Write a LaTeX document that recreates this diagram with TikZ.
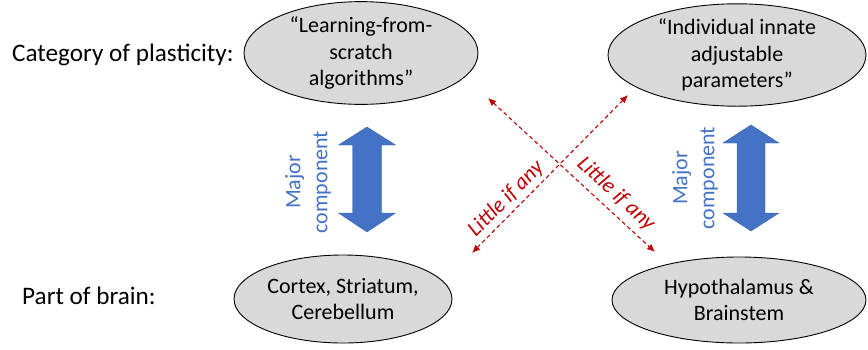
\documentclass[tikz,border=0pt]{standalone}
\usepackage{fontspec}
\setmainfont{Carlito}
\usetikzlibrary{shapes.geometric,arrows.meta}
\definecolor{ovalgray}{HTML}{D9D9D9}
\definecolor{majorblue}{HTML}{4472C4}
\definecolor{littlered}{HTML}{C00000}
\begin{document}
\begin{tikzpicture}[x=1pt,y=-1pt,
  oval/.style={ellipse, draw=black, line width=0.9pt, fill=ovalgray, inner sep=0pt,
    align=center, font=\fontsize{22}{26.5}\selectfont},
  rowlabel/.style={anchor=west, inner sep=0pt, font=\fontsize{25.2}{30}\selectfont},
  bigarrow/.style={fill=majorblue, draw=majorblue!85!black, line width=0.4pt},
  majorlabel/.style={text=majorblue, align=center, rotate=90, inner sep=0pt,
    font=\fontsize{22}{27}\selectfont},
  weaklink/.style={draw=littlered, line width=1.1pt, dash pattern=on 4pt off 3pt,
    {Latex[length=8pt,width=7pt]}-{Latex[length=8pt,width=7pt]}},
  weaklabel/.style={text=littlered, inner sep=0pt, font=\fontsize{22}{26}\selectfont\itshape}
]
\useasboundingbox (0,0) rectangle (868,349);

% row labels
\node[rowlabel] (cat) at (12,55) {Category of plasticity:};
\node[rowlabel] (part) at (22,296) {Part of brain:};

% ovals
\node[oval, minimum width=234pt, minimum height=96pt] (lfs) at (361,53)
  {“Learning-from-\\scratch\\algorithms”};
\node[oval, minimum width=258pt, minimum height=94pt] (iiap) at (737,55)
  {“Individual innate\\adjustable\\parameters”};
\node[oval, minimum width=218pt, minimum height=88pt] (csc) at (343,299)
  {Cortex, Striatum,\\Cerebellum};
\node[oval, minimum width=254pt, minimum height=86pt] (hb) at (739,300)
  {Hypothalamus \&\\Brainstem};

% thick two-headed arrows
\path[bigarrow] (367,127) -- (395.5,145) -- (381.5,145) -- (381.5,213) -- (395.5,213)
  -- (367,232) -- (338.5,213) -- (352.5,213) -- (352.5,145) -- (338.5,145) -- cycle;
\path[bigarrow] (751,125) -- (779,143) -- (765,143) -- (765,213) -- (779,213)
  -- (751,231) -- (723,213) -- (737,213) -- (737,143) -- (723,143) -- cycle;
\node[majorlabel] (majL) at (308,182) {Major\\component};
\node[majorlabel] (majR) at (695,178) {Major\\component};

% weak cross links
\coordinate (x1a) at (488,98);
\coordinate (x1b) at (655,252);
\coordinate (x2a) at (472,253);
\coordinate (x2b) at (628,95);
\draw[weaklink] (x1a) -- (x1b);
\draw[weaklink] (x2a) -- (x2b);
\node[weaklabel, rotate=45.4] (lia) at (506,199) {Little if any};
\node[weaklabel, rotate=-42.7] (lib) at (616,194) {Little if any};
\end{tikzpicture}
\end{document}
